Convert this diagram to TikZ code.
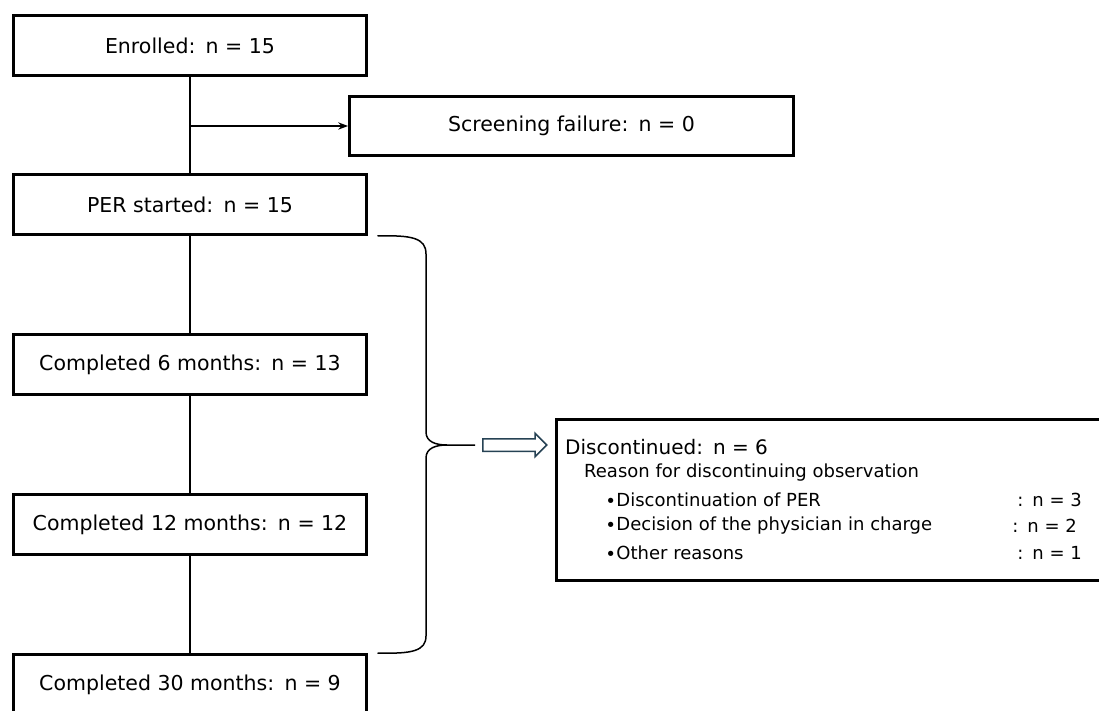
\documentclass[tikz,border=0pt]{standalone}
\usepackage{fontspec}
\setmainfont{DejaVu Sans}
\usetikzlibrary{arrows.meta, positioning, shapes.arrows}
\definecolor{arrowblue}{RGB}{38,66,84}

\begin{document}
\begin{tikzpicture}[x=1pt,y=-1pt,font=\fontsize{20.5}{24}\selectfont,>=Stealth,
     box/.style={draw,line width=3pt,minimum width=353pt,minimum height=60pt,inner sep=0pt},
     link/.style={line width=1.5pt},
     harrow/.style={single arrow,draw=arrowblue,fill=white,line width=1.5pt,inner xsep=0pt,inner ysep=5.5pt,
                    minimum height=64pt,single arrow head extend=5.5pt},
     small/.style={font=\fontsize{18}{21}\selectfont,inner sep=0pt,anchor=west}]
    \clip (0,0) rectangle (1099,711);
    \fill[white] (0,0) rectangle (1099,711);
    \node[box] (en)  at (190, 45.5)  {Enrolled:\enspace n = 15};
    \node[box,minimum width=444pt,minimum height=59pt] (sf) at (571.5,126) {Screening failure:\enspace n = 0};
    \node[box] (per) at (190,204.5)  {PER started:\enspace n = 15};
    \node[box] (m6)  at (190,364.5)  {Completed 6 months:\enspace n = 13};
    \node[box] (m12) at (190,524.5)  {Completed 12 months:\enspace n = 12};
    \node[box] (m30) at (190,684.5)  {Completed 30 months:\enspace n = 9};
    \draw[link] (en) -- (per);
    \draw[link] (per) -- (m6);
    \draw[link] (m6) -- (m12);
    \draw[link] (m12) -- (m30);
    \draw[link,->] (en.south |- sf.west) -- (sf.west);
    % brace over the follow-up period
    \coordinate (tip) at (475,445);
    \draw[link] ([xshift=9.5pt]per.south east) .. controls (412,235) and (426,238) .. (426,254)
        -- (426,432) .. controls (426,442) and (436,445) .. (447,445) -- (tip);
    \draw[link] ([xshift=9.5pt]m30.north east) .. controls (412,654) and (426,651) .. (426,636)
        -- (426,458) .. controls (426,448) and (436,445) .. (447,445);
    \node[harrow,right=7pt of tip] (ha) {};
    \node[box,minimum width=547pt,minimum height=161pt] (dis) at (830,500) {};
    \node[small,font=\fontsize{20}{23}\selectfont] (dt) at (565,447) {Discontinued:\enspace n = 6};
    \node[small] (rs) at (584,473) {Reason for discontinuing observation};
    \node[small] (r1) at (605,500) {∙Discontinuation of PER};
    \node[small] (r2) at (605,526) {∙Decision of the physician in charge};
    \node[small] (r3) at (605,553) {∙Other reasons};
    \node[small,anchor=east] (n1) at (1082,500) {:\enspace n = 3};
    \node[small,anchor=east] (n2) at (1077,526) {:\enspace n = 2};
    \node[small,anchor=east] (n3) at (1082,553) {:\enspace n = 1};
\end{tikzpicture}
\end{document}
